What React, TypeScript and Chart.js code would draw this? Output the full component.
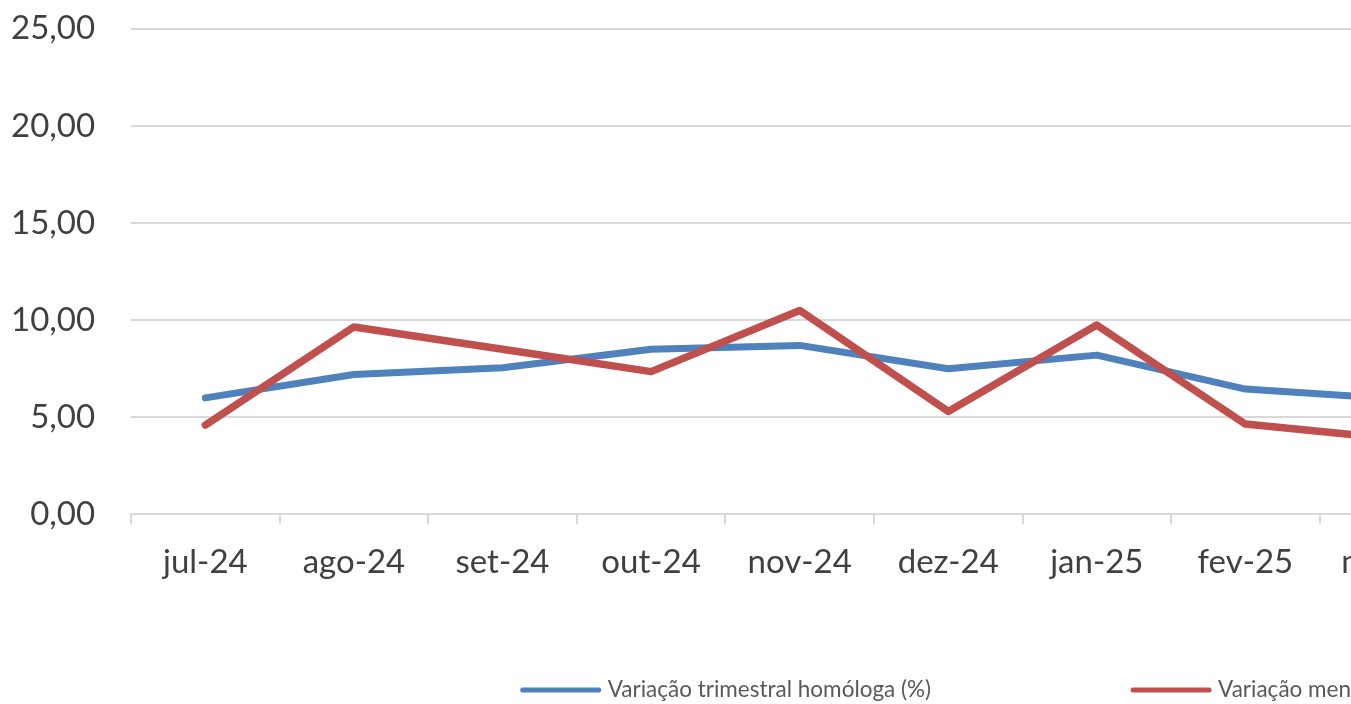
import React, { useEffect, useRef } from "react";
import { Chart, registerables } from "chart.js";

Chart.register(...registerables);

const categories = [
  "jul-24", "ago-24", "set-24", "out-24", "nov-24", "dez-24",
  "jan-25", "fev-25", "mar-25", "abr-25", "mai-25", "jun-25",
];
const trimestral = [6.0, 7.2, 7.55, 8.5, 8.7, 7.5, 8.2, 6.45, 5.95, null, null, null];
const mensal = [4.6, 9.65, 8.5, 7.35, 10.5, 5.3, 9.75, 4.65, 3.9, null, null, null];
const yTicks = [0, 5, 10, 15, 20, 25];

const FONT = "Lato";
const CANVAS_W = 2037;
const CANVAS_H = 704;

const bottomLegend = {
  id: "bottomLegend",
  afterDraw(chart: any) {
    const ctx = chart.ctx;
    ctx.save();
    ctx.font = `22.5px ${FONT}`;
    ctx.textBaseline = "middle";
    ctx.textAlign = "left";
    const items = chart.data.datasets.map((ds: any) => ({
      label: ds.label,
      color: ds.borderColor,
      w: 80 + 7 + ctx.measureText(ds.label).width,
    }));
    const gap = 200;
    const total = items.reduce((s: number, i: any) => s + i.w, 0) + gap * (items.length - 1);
    let x = chart.width / 2 - total / 2;
    const y = 690;
    for (const it of items) {
      ctx.strokeStyle = it.color;
      ctx.lineWidth = 5;
      ctx.lineCap = "round";
      ctx.beginPath();
      ctx.moveTo(x + 2, y);
      ctx.lineTo(x + 78, y);
      ctx.stroke();
      ctx.fillStyle = "#595959";
      ctx.fillText(it.label, x + 87, y);
      x += it.w + gap;
    }
    ctx.restore();
  },
};

export default function App() {
  const ref = useRef<HTMLCanvasElement>(null);
  useEffect(() => {
    if (!ref.current) return;
    const chart = new Chart(ref.current, {
      type: "line",
      data: {
        labels: categories,
        datasets: [
          {
            label: "Variação trimestral homóloga (%)",
            data: trimestral,
            borderColor: "#4F81BD",
            backgroundColor: "#4F81BD",
            borderWidth: 7,
            pointRadius: 0,
            tension: 0,
            borderCapStyle: "round",
            borderJoinStyle: "round",
            order: 2,
          },
          {
            label: "Variação mensal homóloga (%)",
            data: mensal,
            borderColor: "#C0504D",
            backgroundColor: "#C0504D",
            borderWidth: 7.5,
            pointRadius: 0,
            tension: 0,
            borderCapStyle: "round",
            borderJoinStyle: "round",
            order: 1,
          },
        ],
      },
      options: {
        responsive: false,
        animation: false,
        layout: { padding: { left: 2, top: 3, right: 123, bottom: 104 } },
        plugins: {
          legend: { display: false },
          tooltip: { enabled: false },
        },
        scales: {
          x: {
            offset: true,
            grid: {
              offset: true,
              drawOnChartArea: false,
              drawTicks: true,
              tickLength: 10,
              color: "#d9d9d9",
              lineWidth: 2,
            },
            border: { color: "#d9d9d9", width: 2 },
            ticks: {
              font: { family: FONT, size: 33 },
              color: "#404040",
              padding: 18,
              maxRotation: 0,
              autoSkip: false,
            },
          },
          y: {
            min: 0,
            max: 25,
            afterBuildTicks: (axis: any) => {
              axis.ticks = yTicks.map((v) => ({ value: v }));
            },
            grid: {
              color: "#d9d9d9",
              lineWidth: 2,
              drawTicks: true,
              tickLength: 27,
              tickColor: "rgba(0,0,0,0)",
            },
            border: { display: false },
            ticks: {
              font: { family: FONT, size: 33 },
              color: "#404040",
              padding: 9,
              callback: (v: any) => Number(v).toFixed(2).replace(".", ","),
            },
          },
        },
      },
      plugins: [bottomLegend],
    });
    return () => chart.destroy();
  }, []);
  return (
    <div style={{ position: "fixed", left: 0, top: 0, width: "100vw", height: "100vh", overflow: "hidden", background: "#fff" }}>
      <canvas ref={ref} width={CANVAS_W} height={CANVAS_H} style={{ display: "block", width: CANVAS_W, height: CANVAS_H }} />
    </div>
  );
}
